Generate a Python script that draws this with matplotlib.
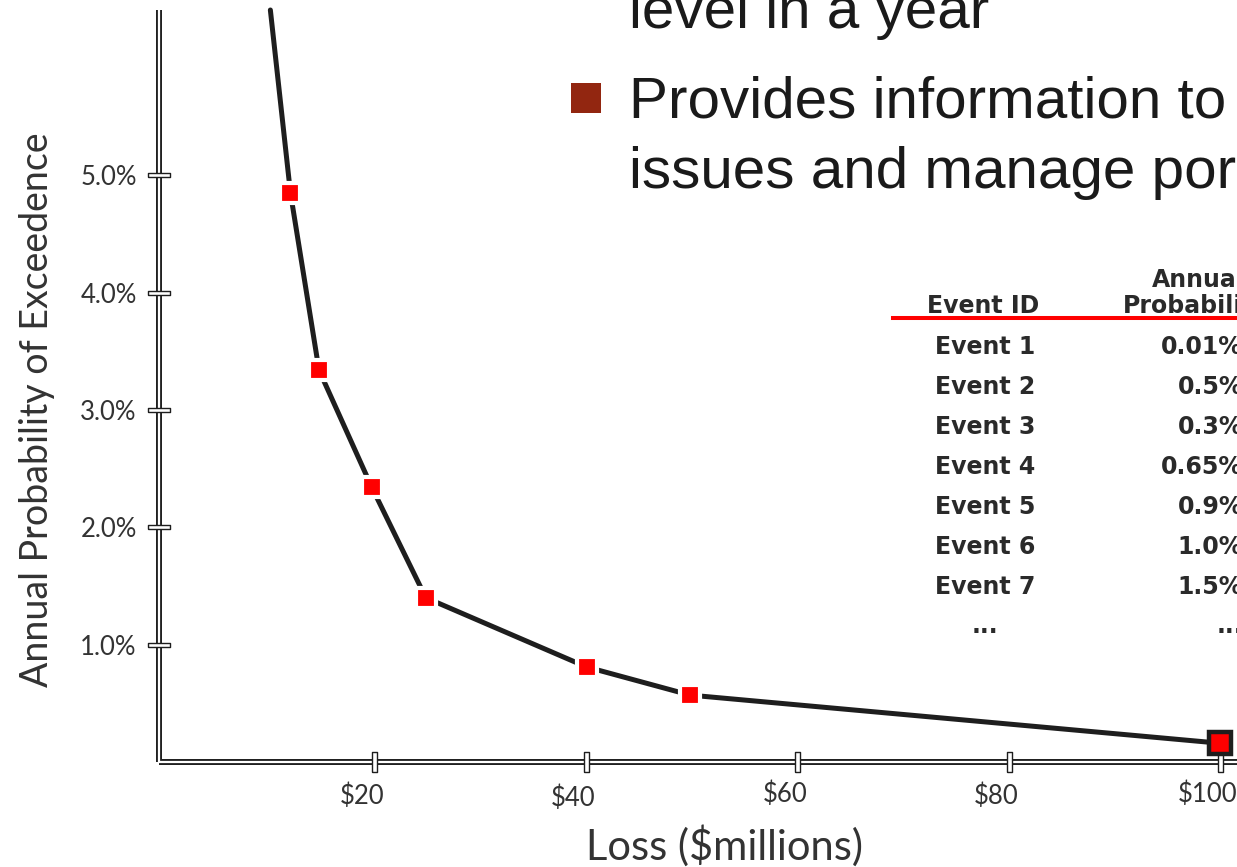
import numpy as np
import matplotlib.pyplot as plt
import matplotlib.transforms as mtransforms
from matplotlib.lines import Line2D
from matplotlib.patches import Rectangle

# exceedance curve: loss ($ millions) vs annual probability (%)
loss = [10.2, 12.1, 14.8, 19.8, 24.9, 40.1, 49.9, 100.0]
prob = [6.41, 4.85, 3.34, 2.34, 1.40, 0.81, 0.57, 0.16]

xticks = [20, 40, 60, 80, 100]
xticklabels = [r'\$20', r'\$40', r'\$60', r'\$80', r'\$100']
yticks = [1, 2, 3, 4, 5]
yticklabels = ['1.0%', '2.0%', '3.0%', '4.0%', '5.0%']

event_ids = ['Event 1', 'Event 2', 'Event 3', 'Event 4', 'Event 5', 'Event 6', 'Event 7', '...']
event_probs = ['0.01%', '0.5%', '0.3%', '0.65%', '0.9%', '1.0%', '1.5%', '...']

bullet_lines = ['level in a year', 'Provides information to', 'issues and manage por']

W, H = 1237, 867


def fx(x):
    return x / W


def fy(y):
    return 1 - y / H


dark = '#1e1e1e'
grey = '#333333'

fig = plt.figure(figsize=(W / 100, H / 100), dpi=100)
ax = fig.add_axes([fx(159), fy(762), fx(W - 159), (762 - 10) / H])
ax.set_xlim(-0.33, 101.6)
ax.set_ylim(0, 6.41)
for s in ax.spines.values():
    s.set_visible(False)

# double-line axes
for xs, ys in [([0, 0], [0, 1]), ([0, 1], [0, 0])]:
    ax.plot(xs, ys, color=dark, lw=4.3, transform=ax.transAxes, clip_on=False,
            solid_capstyle='butt', zorder=2)
    ax.plot(xs, ys, color='white', lw=1.6, transform=ax.transAxes, clip_on=False,
            solid_capstyle='butt', zorder=2.1)

# boxed tick marks
hbox = [(-11, -2.5), (11, -2.5), (11, 2.5), (-11, 2.5), (-11, -2.5)]
vbox = [(-2.5, -10), (2.5, -10), (2.5, 10), (-2.5, 10), (-2.5, -10)]
ax.plot(np.zeros(len(yticks)), yticks, ls='none', marker=hbox, ms=15.8, mfc='white',
        mec=dark, mew=1.0, transform=ax.get_yaxis_transform(), clip_on=False, zorder=2.2)
ax.plot(xticks, np.zeros(len(xticks)), ls='none', marker=vbox, ms=14.4, mfc='white',
        mec=dark, mew=1.0, transform=ax.get_xaxis_transform(), clip_on=False, zorder=2.2)

ax.set_xticks(xticks)
ax.set_xticklabels(xticklabels)
ax.set_yticks(yticks)
ax.set_yticklabels(yticklabels)
ax.tick_params(axis='x', length=0, pad=15.5, labelsize=18.5, labelcolor=grey)
ax.tick_params(axis='y', length=0, pad=16, labelsize=18.5, labelcolor=grey)
for lab in ax.get_xticklabels() + ax.get_yticklabels():
    lab.set_fontfamily('Lato')
# x labels sit a little left of their ticks, slightly uneven in height
for lab, dy in zip(ax.get_xticklabels(), [0, -2, 2, 0, 2]):
    off = mtransforms.ScaledTranslation(-0.12, dy / 100, fig.dpi_scale_trans)
    lab.set_transform(lab.get_transform() + off)

# curve and markers
ax.plot(loss, prob, color=dark, lw=3.6, solid_capstyle='round', zorder=3, clip_on=False)
ax.plot(loss[1:-1], prob[1:-1], ls='none', marker='s', ms=15, mfc='#ff0000', mec='white',
        mew=3, zorder=4, clip_on=False)
ax.plot(loss[-1:], prob[-1:], ls='none', marker='s', ms=16.2, mfc='#ff0000', mec=dark,
        mew=3.2, zorder=5, clip_on=False)

fig.text(fx(725), fy(860), r'Loss (\$millions)', ha='center', va='baseline',
         fontsize=30, family='Lato', color=grey)
fig.text(fx(37), fy(410), 'Annual Probability of Exceedence', rotation=90, ha='center',
         va='center', fontsize=27, family='Lato', color=grey)

# bullet text
for line, base in zip(bullet_lines, [28, 118, 188]):
    fig.text(fx(629), fy(base), line, ha='left', va='baseline', fontsize=42,
             family='Liberation Sans', color='#1a1a1a')
fig.patches.append(Rectangle((fx(571), fy(113)), 30 / W, 30 / H, transform=fig.transFigure,
                             facecolor='#922610', edgecolor='none'))

# event table
tfont = dict(family='DejaVu Sans', weight='bold', fontsize=17, color='#2a2a2a')
fig.text(fx(983), fy(313), 'Event ID', ha='center', va='baseline', **tfont)
fig.text(fx(1198), fy(287), 'Annual', ha='center', va='baseline', **tfont)
fig.text(fx(1196), fy(313), 'Probability', ha='center', va='baseline', **tfont)
fig.lines.append(Line2D([fx(893), fx(W)], [fy(318), fy(318)], transform=fig.transFigure,
                        color='#ff0000', lw=2.9))
for i, (eid, ep) in enumerate(zip(event_ids, event_probs)):
    base = 354 + 40 * i if eid != '...' else 633
    fig.text(fx(985), fy(base), eid, ha='center', va='baseline', **tfont)
    fig.text(fx(1243), fy(base), ep, ha='right', va='baseline', **tfont)

fig.savefig('out.png', dpi=100)
